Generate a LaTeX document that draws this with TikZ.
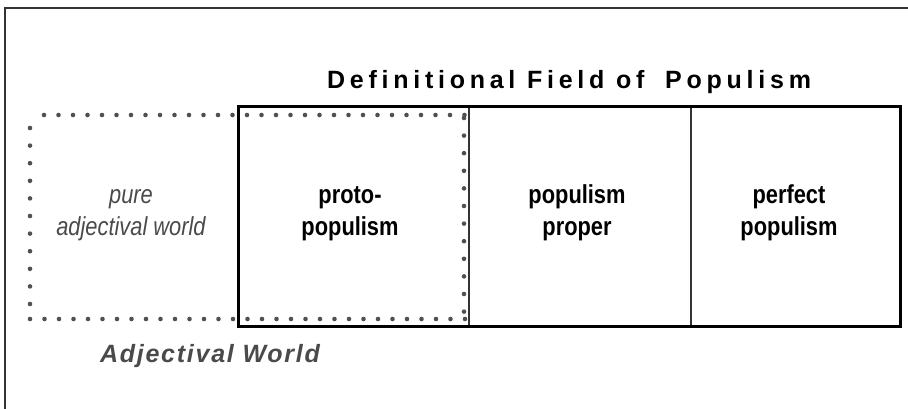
\documentclass[tikz,border=0pt]{standalone}
\usepackage{fontspec}
\setmainfont{Liberation Sans}
\newfontfamily\cellfont{Liberation Sans}[FakeStretch=0.84]
\newfontfamily\titlefont{Liberation Sans}[LetterSpace=19]
\newfontfamily\worldfont{Liberation Sans}[LetterSpace=7]
\definecolor{dotgray}{HTML}{505050}
\definecolor{textgray}{HTML}{4A4A4A}
\definecolor{framegray}{HTML}{333333}
\tikzset{
  celltext/.style={inner sep=0pt, align=center, anchor=base, font=\cellfont\bfseries\fontsize{26}{32}\selectfont},
  adjtext/.style={inner sep=0pt, align=center, anchor=base, text=textgray, font=\cellfont\itshape\fontsize{26}{32}\selectfont},
  dotrowh/.style={draw=dotgray, line width=4.6pt, line cap=round, dash pattern=on 0pt off 14.5pt},
  dotrowv/.style={draw=dotgray, line width=4.6pt, line cap=round, dash pattern=on 0pt off 17.6pt},
  mainbox/.style={draw=black, line width=3pt},
  divider/.style={draw=black!80, line width=1.8pt},
}
\begin{document}
\begin{tikzpicture}[x=1pt, y=-1pt]
\useasboundingbox (0,0) rectangle (908,408);
\clip (0,0) rectangle (908,408);
% outer frame (partly outside the picture)
\coordinate (fbl) at (5,430);
\coordinate (ftl) at (5,8);
\coordinate (ftr) at (930,8);
\draw[framegray, line width=1.8pt] (fbl) -- (ftl) -- (ftr);
% dotted Adjectival World box
\coordinate (d1) at (44,115);
\coordinate (d2) at (465,115);
\coordinate (d3) at (464,118);
\coordinate (d4) at (464,320);
\coordinate (d5) at (30,319);
\coordinate (d6) at (470,319);
\coordinate (d7) at (30,128);
\coordinate (d8) at (30,310);
\draw[dotrowh] (d1) -- (d2);
\draw[dotrowv] (d3) -- (d4);
\draw[dotrowh] (d5) -- (d6);
\draw[dotrowv] (d7) -- (d8);
% main box
\coordinate (bnw) at (238,106);
\coordinate (bse) at (900,326);
\coordinate (c1t) at (469,106);
\coordinate (c1b) at (469,326);
\coordinate (c2t) at (691,106);
\coordinate (c2b) at (691,326);
\draw[divider] (c1t) -- (c1b);
\draw[divider] (c2t) -- (c2b);
\draw[mainbox] (bnw) rectangle (bse);
% texts
\node[inner sep=0pt, anchor=base, font=\titlefont\bfseries\fontsize{25}{30}\selectfont] (title) at (569,88) {Definitional Field of\hspace{9pt} Populism};
\node[inner sep=0pt, anchor=base, text=textgray, font=\worldfont\bfseries\itshape\fontsize{25}{30}\selectfont] (world) at (210,362) {Adjectival World};
\node[adjtext] (pure) at (131,235) {pure\\adjectival world};
\node[celltext] (proto) at (350,235) {proto-\\populism};
\node[celltext] (proper) at (577,235) {populism\\proper};
\node[celltext] (perfect) at (789,235) {perfect\\populism};
\end{tikzpicture}
\end{document}
